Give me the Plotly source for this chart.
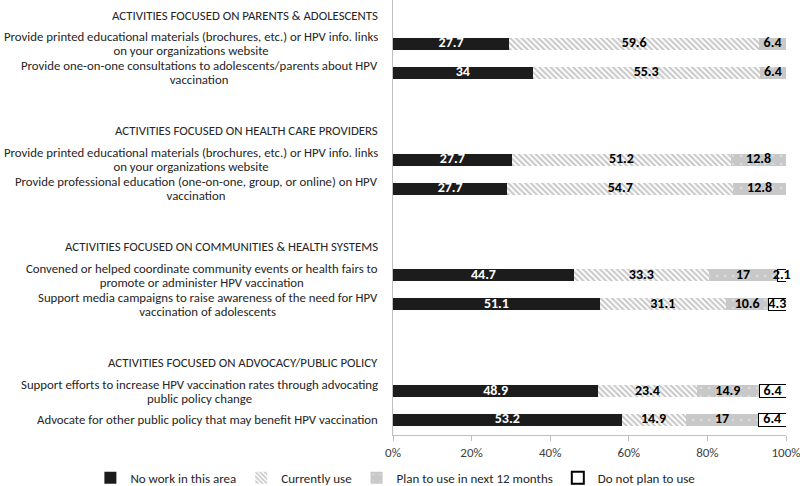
import plotly.graph_objects as go

# ---- data ----
headers = [
    "ACTIVITIES FOCUSED ON PARENTS & ADOLESCENTS",
    "ACTIVITIES FOCUSED ON HEALTH CARE PROVIDERS",
    "ACTIVITIES FOCUSED ON COMMUNITIES & HEALTH SYSTEMS",
    "ACTIVITIES FOCUSED ON ADVOCACY/PUBLIC POLICY",
]
activities = [
    ["Provide printed educational materials (brochures, etc.) or HPV info. links", "on your organizations website"],
    ["Provide one-on-one consultations to adolescents/parents about HPV", "vaccination"],
    ["Provide printed educational materials (brochures, etc.) or HPV info. links", "on your organizations website"],
    ["Provide professional education (one-on-one, group, or online) on HPV", "vaccination"],
    ["Convened or helped coordinate community events or health fairs to", "promote or administer HPV vaccination"],
    ["Support media campaigns to raise awareness of the need for HPV", "vaccination of adolescents"],
    ["Support efforts to increase HPV vaccination rates through advocating", "public policy change"],
    ["Advocate for other public policy that may benefit HPV vaccination"],
]
no_work = [27.7, 34, 27.7, 27.7, 44.7, 51.1, 48.9, 53.2]
currently = [59.6, 55.3, 51.2, 54.7, 33.3, 31.1, 23.4, 14.9]
plan = [6.4, 6.4, 12.8, 12.8, 17, 10.6, 14.9, 17]
do_not = [0, 0, 0, 0, 2.1, 4.3, 6.4, 6.4]
series_names = ["No work in this area", "Currently use", "Plan to use in next 12 months", "Do not plan to use"]
tick_vals = [0, 20, 40, 60, 80, 100]
tick_text = ["0%", "20%", "40%", "60%", "80%", "100%"]

# slot positions (header slots + activity slots, with a blank between groups)
header_pos = [0, 4, 8, 12]
act_pos = [1, 2, 5, 6, 9, 10, 13, 14]

FONT = "Carlito, Lato, sans-serif"
TXT = "#262626"
LBL = 12.8

series = [no_work, currently, plan, do_not]
totals = [sum(v) for v in zip(*series)]
shares = [[v / t * 100 for v, t in zip(s, totals)] for s in series]

def fmt(v):
    return "" if not v else str(v)

fig = go.Figure()
styles = [
    dict(marker=dict(color="#1c1c1c", line=dict(width=0)), tc="white"),
    dict(marker=dict(color="white", line=dict(width=0),
                     pattern=dict(shape="\\", fgcolor="#8e8e8e", bgcolor="white", size=4, solidity=0.5)),
         tc="black"),
    dict(marker=dict(color="#c8c8c8", line=dict(width=0),
                     pattern=dict(shape=".", fgcolor="#eeeeee", bgcolor="#c8c8c8", size=8, solidity=0.08)),
         tc="black"),
    dict(marker=dict(color="white", line=dict(width=1, color="black")), tc="black"),
]
for i, (name, vals, sh, st) in enumerate(zip(series_names, series, shares, styles)):
    xs = [s if v else None for v, s in zip(vals, sh)]
    fig.add_trace(go.Bar(
        name=name, y=act_pos, x=xs, orientation="h", width=0.42,
        marker=st["marker"], hoverinfo="skip",
    ))

# value labels, centred on each segment (narrow segments may overflow)
for i, (vals, sh, st) in enumerate(zip(series, shares, styles)):
    starts = [sum(shares[k][j] for k in range(i)) for j in range(len(vals))]
    xs = [s0 + s / 2 for s0, s in zip(starts, sh)]
    keep = [j for j, v in enumerate(vals) if v]
    fig.add_trace(go.Scatter(
        x=[xs[j] for j in keep], y=[act_pos[j] for j in keep],
        text=[fmt(vals[j]) for j in keep], mode="text", textposition="middle center",
        textfont=dict(family=FONT, size=14, color=st["tc"], weight="bold"),
        cliponaxis=False, showlegend=False, hoverinfo="skip",
    ))

for h, p in zip(headers, header_pos):
    fig.add_annotation(x=-0.033, xref="paper", y=p, yref="y", text=h, showarrow=False,
                       xanchor="right", align="right", font=dict(family=FONT, size=LBL, color=TXT))
for lines, p in zip(activities, act_pos):
    txt = "<br>".join('<span style="font-size:%spx">%s</span>' % (LBL, ln) for ln in lines)
    fig.add_annotation(x=-0.033, xref="paper", y=p, yref="y", text=txt, showarrow=False,
                       xanchor="right", align="center", font=dict(family=FONT, size=10.4, color=TXT))

fig.update_layout(
    width=800, height=486,
    margin=dict(l=393, r=14, t=0, b=51, autoexpand=False),
    barmode="stack",
    plot_bgcolor="white", paper_bgcolor="white",
    font=dict(family=FONT, size=13, color="#404040"),
    showlegend=True,
    legend=dict(orientation="h", x=-0.77, xanchor="left", xref="paper",
                y=-0.064, yanchor="top", yref="paper",
                font=dict(size=13, color=TXT), itemsizing="constant",
                traceorder="normal", itemwidth=30),
    xaxis=dict(range=[0, 100], tickvals=tick_vals, ticktext=tick_text,
               showgrid=False, zeroline=False, showline=True, linecolor="#bfbfbf",
               ticks="outside", ticklen=5, tickcolor="#bfbfbf", ticklabeloverflow="allow",
               tickfont=dict(size=13, color="#404040")),
    yaxis=dict(range=[14.52, -0.52], showticklabels=False, showgrid=False, zeroline=False,
               showline=True, linecolor="#bfbfbf", ticks=""),
)
fig.write_html("out.html", config={"displayModeBar": False},
               post_script="document.body.style.margin='0';document.body.style.overflow='hidden';")
